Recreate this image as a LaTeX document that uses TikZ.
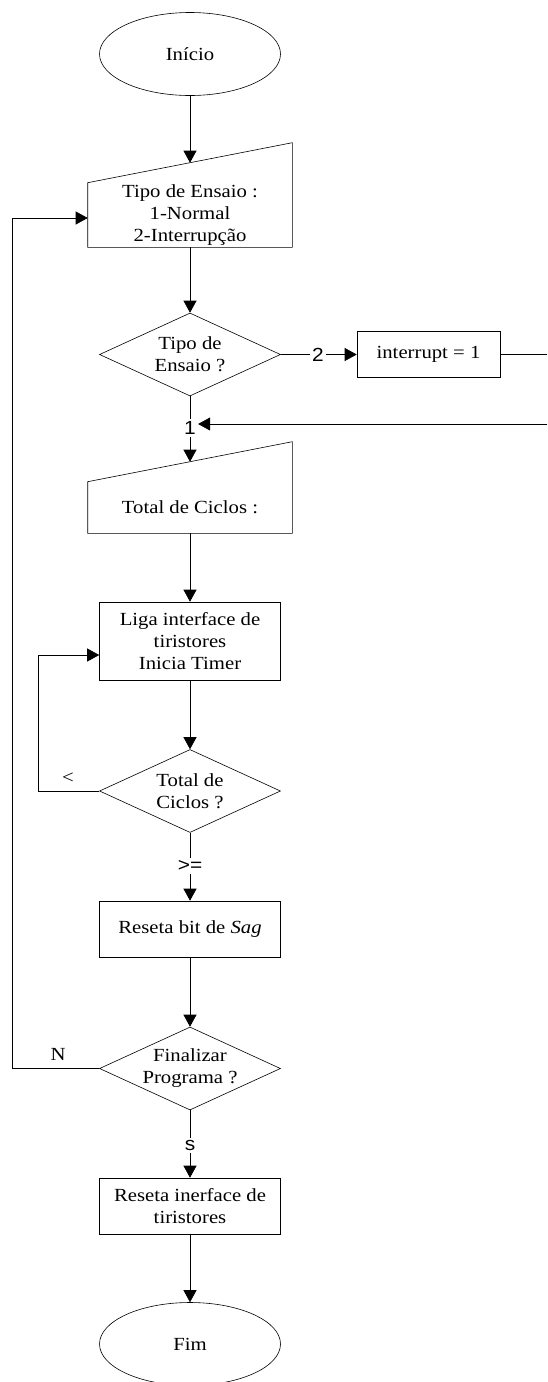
\documentclass[tikz,border=0pt]{standalone}
\usepackage{fontspec}
\setmainfont{Liberation Serif}[FakeStretch=1.12]
\setsansfont{Liberation Sans}[FakeStretch=1.1]
\usetikzlibrary{shapes.geometric,arrows,arrows.meta,calc}
\tikzstyle{startstop} = [ellipse, minimum width=181pt, minimum height=83pt, draw=black, inner sep=0pt]
\tikzstyle{process} = [rectangle, minimum width=181pt, draw=black, text centered, align=center, inner sep=0pt]
\tikzstyle{decision} = [diamond, aspect=2.18, minimum width=181pt, minimum height=83pt, inner sep=0pt, draw=black, align=center]
\tikzstyle{io} = [rectangle, minimum width=204pt, inner sep=0pt, align=center]
\tikzstyle{lbl} = [font=\sffamily\fontsize{19}{19}\selectfont, inner sep=2pt]
\tikzstyle{arrow} = [line width=0.6pt, -{Triangle[width=13pt,length=12pt]}]

\begin{document}
\begin{tikzpicture}[x=1pt, y=-1pt, font=\fontsize{18.5}{22}\selectfont, line width=0.6pt]
\useasboundingbox (0,0) rectangle (547,1382);
%\node (title) at (190,0) {};
\node (start) at (190,54) [startstop] {Início};
\node (in1) at (190,215) [io, minimum height=64pt] {Tipo de Ensaio :\\1-Normal\\2-Interrupção};
\draw (in1.south west) -- (in1.north west) -- ($(in1.north east)+(0,-40)$) -- (in1.south east) -- cycle;
\coordinate (in1top) at ($(in1.north)+(0,-20)$);
\node (tipo) at (190,354.5) [decision] {Tipo de\\Ensaio ?};
\node (two) at (318,354.5) [lbl] {2};
\node (intr) at (428.5,354.5) [process, minimum width=143pt, minimum height=46pt] {interrupt = 1};
\coordinate (r1) at (547,354.5);
\coordinate (r2) at (547,424);
\node (one) at (190,428) [lbl] {1};
\node (in2) at (190,507.5) [io, minimum height=51pt] {Total de Ciclos :};
\draw (in2.south west) -- (in2.north west) -- ($(in2.north east)+(0,-40)$) -- (in2.south east) -- cycle;
\coordinate (in2top) at ($(in2.north)+(0,-20)$);
\node (liga) at (190,641) [process, minimum height=78pt] {Liga interface de\\tiristores\\Inicia Timer};
\node (ciclos) at (190,791) [decision] {Total de\\Ciclos ?};
\node (lt) at (68,778) {<};
\node (ge) at (190,866) [lbl] {>=};
\node (sag) at (190,929) [process, minimum height=56pt] {Reseta bit de \textit{Sag}};
\node (fin) at (190,1068.5) [decision] {Finalizar\\Programa ?};
\node (no) at (58,1054) {N};
\node (yes) at (190,1145) [lbl] {s};
\node (reset) at (190,1206) [process, minimum height=56pt] {Reseta inerface de\\tiristores};
\node (stop) at (190,1344) [startstop] {Fim};
% connectors
\draw [arrow] (start) -- (in1top);
\draw [arrow] (in1) -- (tipo);
\draw (tipo) -- (two);
\draw [arrow] (two) -- (intr);
\draw (intr.east) -- (r1);
\draw [arrow] (r2) -- (one.east |- r2);
\draw (tipo) -- (one);
\draw [arrow] (one) -- (in2top);
\draw [arrow] (in2) -- (liga);
\draw [arrow] (liga) -- (ciclos);
\draw [arrow] (ciclos.west) -- ++(-61,0) |- ([yshift=-14pt]liga.west);
\draw (ciclos) -- (ge);
\draw [arrow] (ge) -- (sag);
\draw [arrow] (sag) -- (fin);
\draw [arrow] (fin.west) -- ++(-87,0) |- ([yshift=-3pt]in1.west);
\draw (fin) -- (yes);
\draw [arrow] (yes) -- (reset);
\draw [arrow] (reset) -- (stop);
\end{tikzpicture}
\end{document}
